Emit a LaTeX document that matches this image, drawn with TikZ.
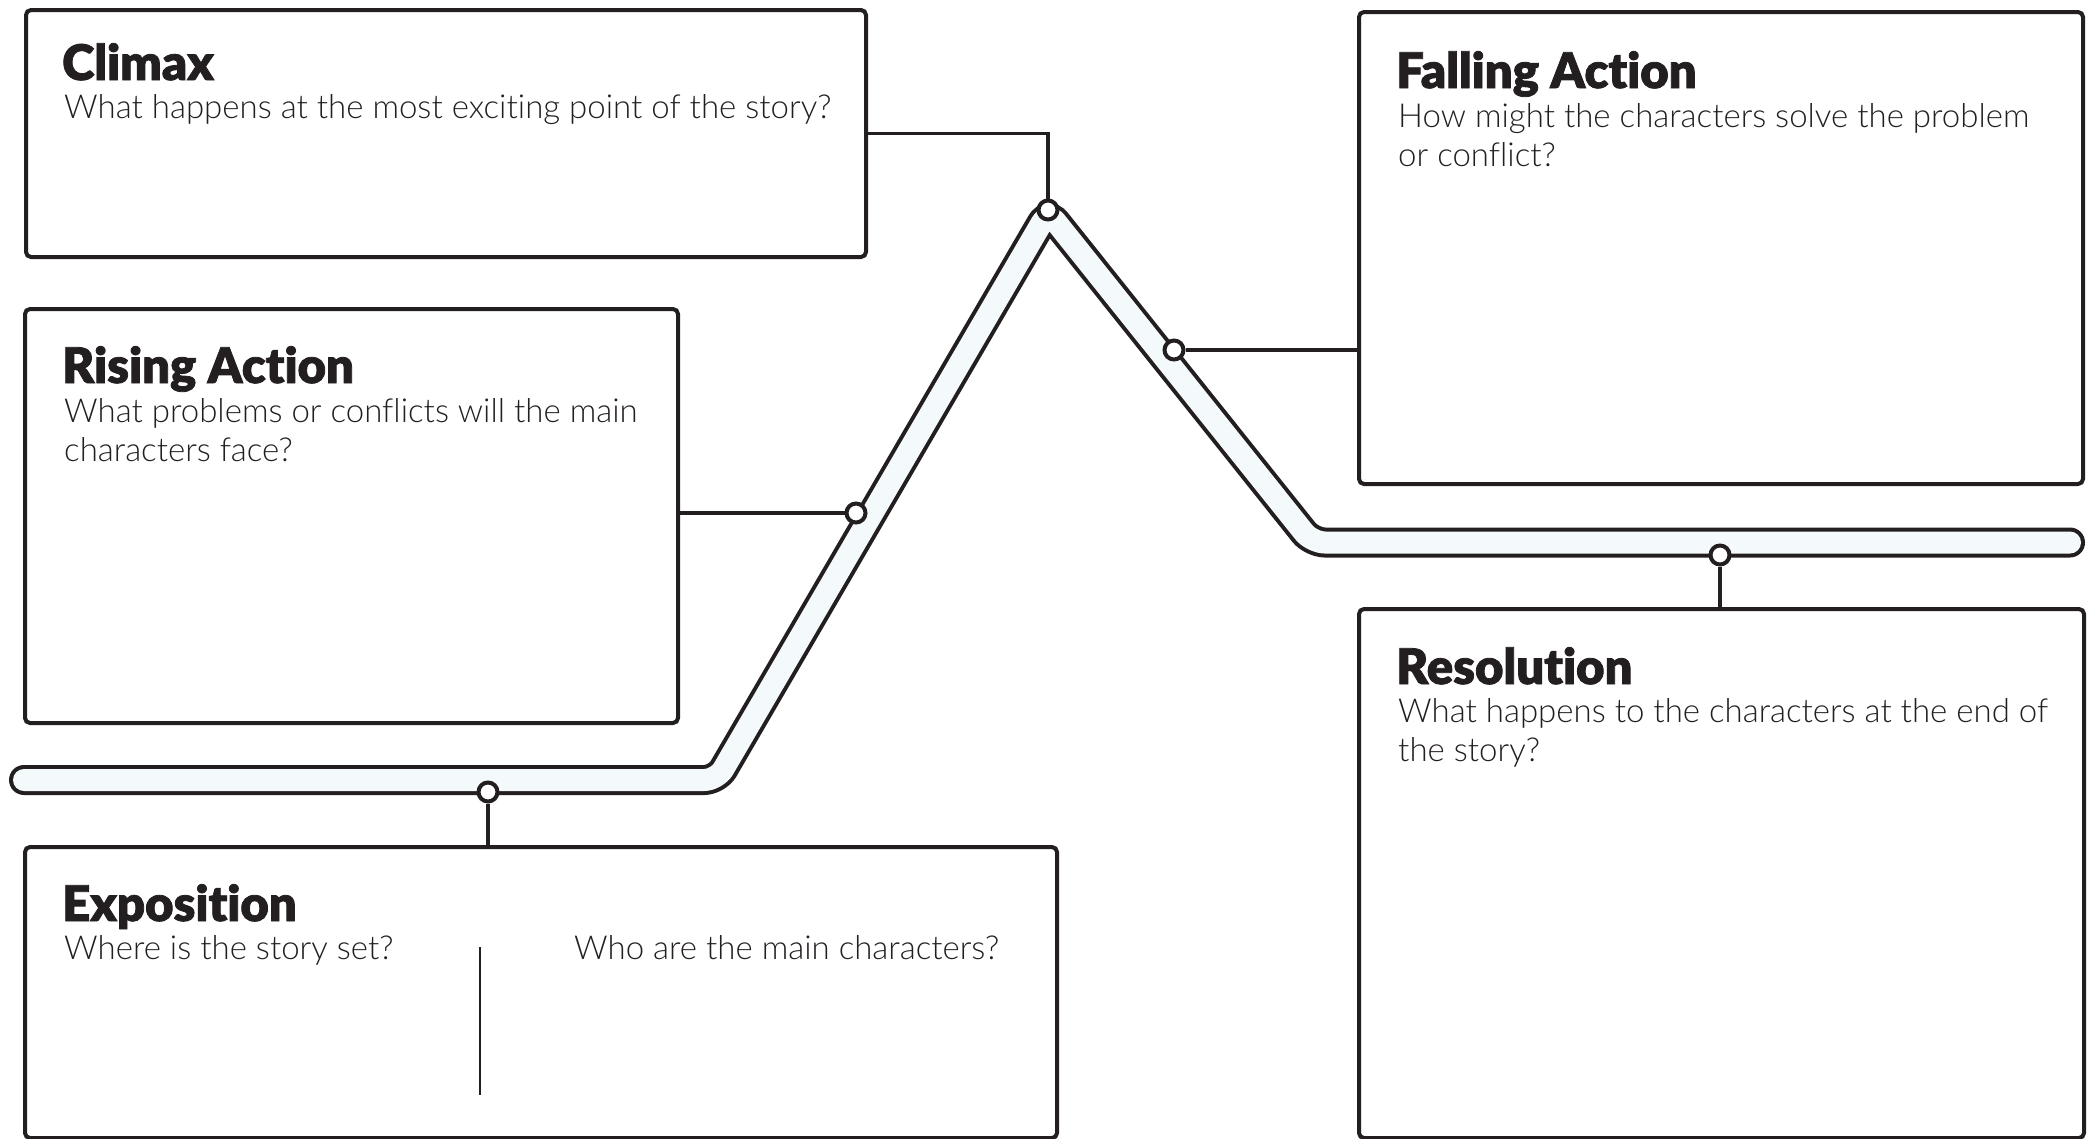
\documentclass[tikz,border=0pt]{standalone}
\usepackage{fontspec}
\newfontfamily\bodyfont{Lato Light}[Ligatures=NoCommon]
\newfontfamily\titlefont{Lato Black}[FakeBold=1.6,Ligatures=NoCommon]
\definecolor{ink}{HTML}{231F20}
\definecolor{trackfill}{HTML}{F4FAFC}
\begin{document}
\begin{tikzpicture}[x=1pt,y=-1pt,
  box/.style={draw=ink, line width=4pt, rounded corners=5pt, fill=white, inner sep=0pt, anchor=north west},
  ttl/.style={font=\titlefont\fontsize{49}{55}\selectfont, text=ink, anchor=base west, inner sep=0pt},
  txt/.style={font=\bodyfont\fontsize{33}{39}\selectfont, text=ink, anchor=base west, inner sep=0pt},
  dot/.style={circle, draw=ink, line width=4pt, fill=white, minimum size=19pt, inner sep=0pt},
  conn/.style={draw=ink, line width=3.5pt},
  trackout/.style={draw=ink, line width=30pt, line cap=round, rounded corners=13pt},
  trackin/.style={draw=trackfill, line width=22pt, line cap=round, rounded corners=13pt}]
\useasboundingbox (0,0) rectangle (2093,1138);
% boxes
\node[box, minimum width=840pt, minimum height=247pt] (climax) at (24,8) {};
\node[box, minimum width=653pt, minimum height=414pt] (rising) at (23,307) {};
\node[box, minimum width=724pt, minimum height=472pt] (falling) at (1357,10) {};
\node[box, minimum width=725pt, minimum height=529pt] (resol) at (1357,607) {};
\node[box, minimum width=1032pt, minimum height=291pt] (expo) at (23,845) {};
% track
\draw[trackout] (24,780) -- (717,780) -- (1048,212) -- (1312,542.5) -- (2070,542.5);
\draw[trackin] (24,780) -- (717,780) -- (1048,212) -- (1312,542.5) -- (2070,542.5);
% points on the track
\node[dot] (cc) at (1048,210) {};
\node[dot] (rc) at (856,513) {};
\node[dot] (fc) at (1174,350) {};
\node[dot] (ec) at (488,792) {};
\node[dot] (resc) at (1720,555) {};
% connectors
\draw[conn] (climax.east) -| (cc.north);
\draw[conn] (rising.east |- rc) -- (rc.west);
\draw[conn] (fc.east) -- (fc -| falling.west);
\draw[conn] (ec.south) -- (ec |- expo.north);
\draw[conn] (resc.south) -- (resc |- resol.north);
% divider
\coordinate (dv1) at (480,947);
\coordinate (dv2) at (480,1095);
\draw[draw=ink, line width=2pt] (dv1) -- (dv2);
% texts
\node[ttl] (t1) at (62,80) {Climax};
\node[txt] (q1) at (64,118) {What happens at the most exciting point of the story?};
\node[ttl] (t2) at (62,383) {Rising Action};
\node[txt] (q2a) at (64,422) {What problems or conflicts will the main};
\node[txt] (q2b) at (64,461) {characters face?};
\node[ttl] (t3) at (1396,88) {Falling Action};
\node[txt] (q3a) at (1398,127) {How might the characters solve the problem};
\node[txt] (q3b) at (1398,166) {or conflict?};
\node[ttl] (t4) at (1396,684) {Resolution};
\node[txt] (q4a) at (1398,722) {What happens to the characters at the end of};
\node[txt] (q4b) at (1398,761) {the story?};
\node[ttl] (t5) at (62,921) {Exposition};
\node[txt] (q5a) at (64,959) {Where is the story set?};
\node[txt] (q5b) at (574,959) {Who are the main characters?};
\end{tikzpicture}
\end{document}
